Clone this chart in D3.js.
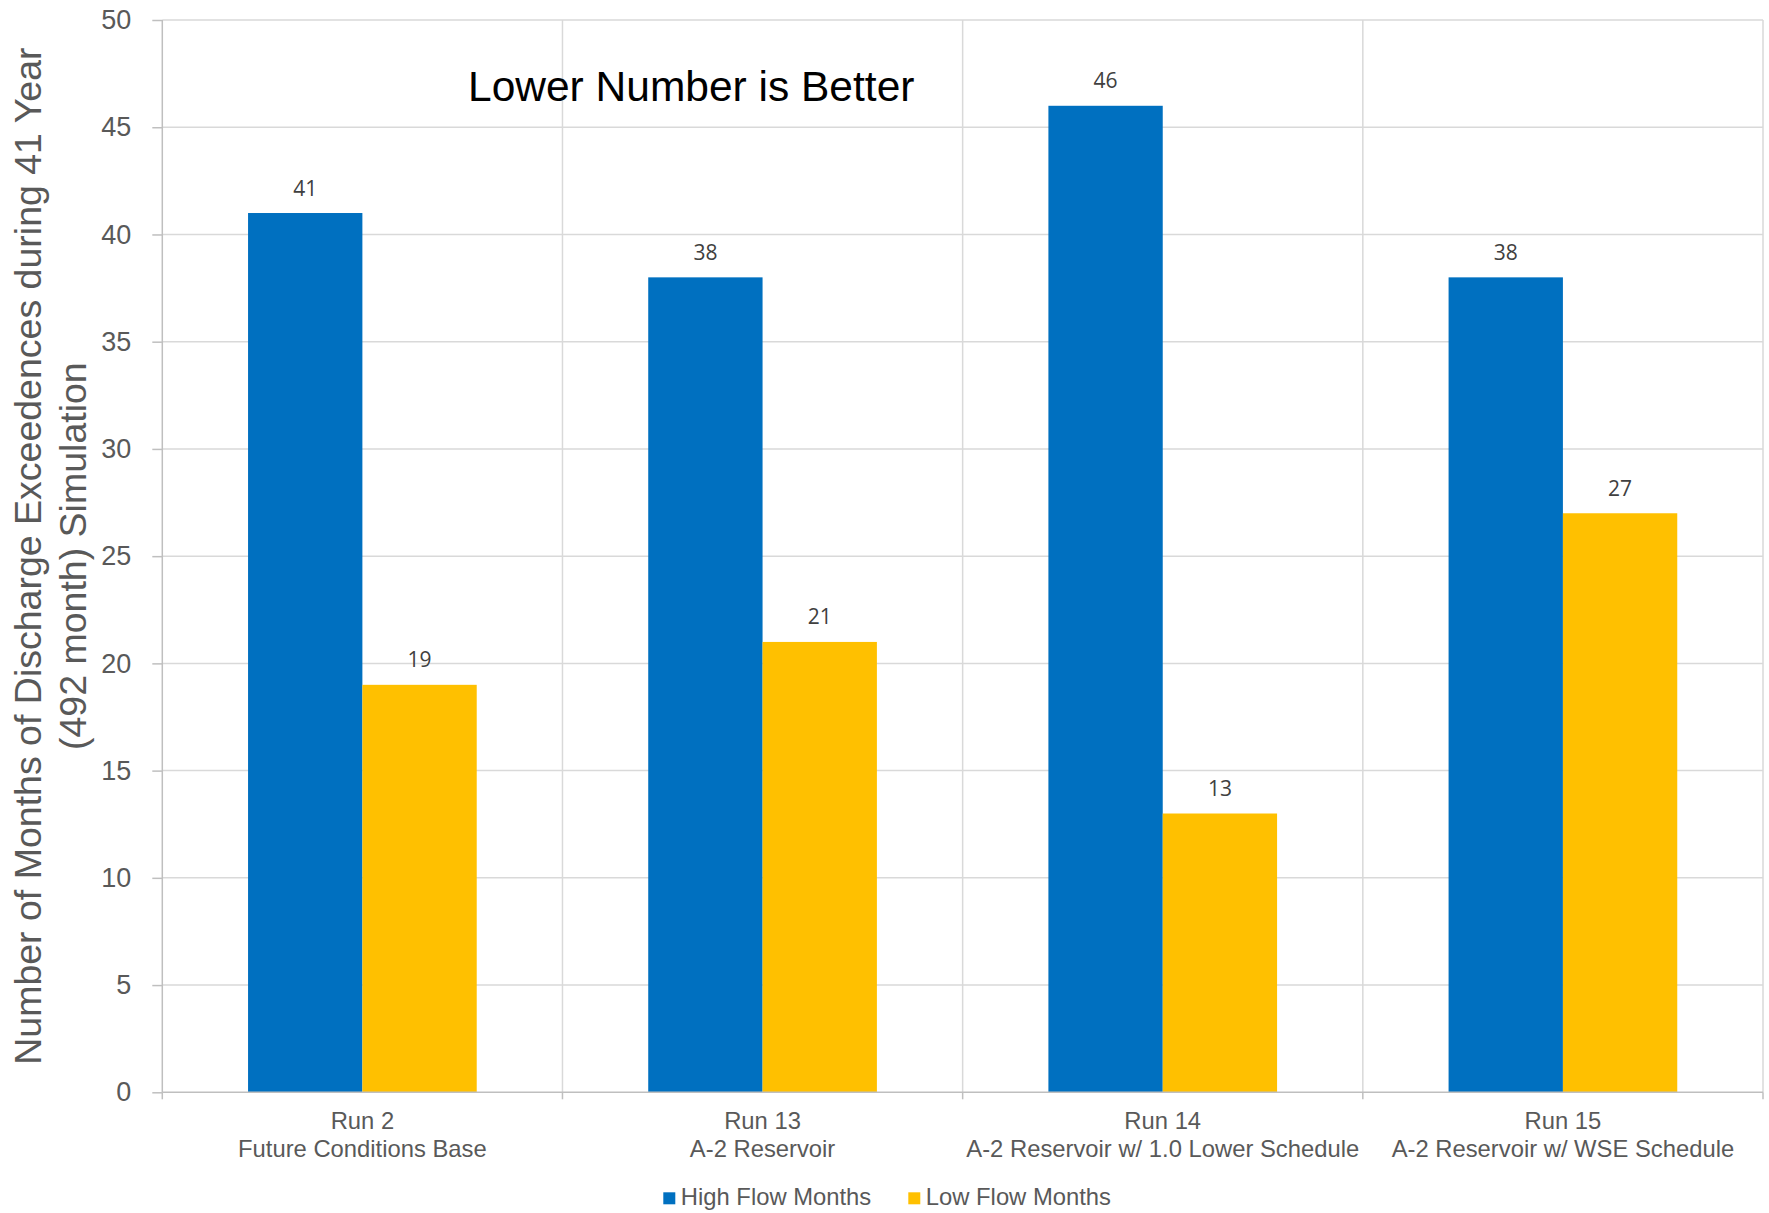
<!DOCTYPE html>
<html><head><meta charset="utf-8">
<script src="https://cdn.jsdelivr.net/npm/d3@7"></script>
<style>body{margin:0;background:#fff}svg{display:block}</style>
</head><body>
<script>
const categories = [
  ["Run 2", "Future Conditions Base"],
  ["Run 13", "A-2 Reservoir"],
  ["Run 14", "A-2 Reservoir w/ 1.0 Lower Schedule"],
  ["Run 15", "A-2 Reservoir w/ WSE Schedule"]
];
const seriesNames = ["High Flow Months", "Low Flow Months"];
const highFlow = [41, 38, 46, 38];
const lowFlow = [19, 21, 13, 27];
const yTicks = [0, 5, 10, 15, 20, 25, 30, 35, 40, 45, 50];
const colors = ["#0070C0", "#FFC000"];

const W = 1769, H = 1213;
const m = {left: 162.3, right: 1763, top: 20, bottom: 1092.3};
const svg = d3.select("body").append("svg").attr("width", W).attr("height", H);

const keys = categories.map(c => c[0]);
const x0 = d3.scaleBand().domain(keys).range([m.left, m.right]).paddingInner(0).paddingOuter(0);
const x1 = d3.scaleBand().domain(seriesNames).range([0, x0.bandwidth()]).paddingInner(0).paddingOuter(0.75);
const y = d3.scaleLinear().domain([0, 50]).range([m.bottom, m.top]);

// horizontal gridlines
svg.append("g").selectAll("line").data(yTicks.filter(t => t > 0)).join("line")
  .attr("x1", m.left).attr("x2", m.right)
  .attr("y1", d => y(d)).attr("y2", d => y(d))
  .attr("stroke", "#d9d9d9").attr("stroke-width", 1.5);
// vertical gridlines at category boundaries
const bounds = keys.map(k => x0(k)).concat([m.right]);
svg.append("g").selectAll("line").data(bounds.slice(1)).join("line")
  .attr("x1", d => d).attr("x2", d => d)
  .attr("y1", m.top).attr("y2", m.bottom)
  .attr("stroke", "#d9d9d9").attr("stroke-width", 1.5);

// bars
const data = keys.map((k, i) => ({key: k, vals: [highFlow[i], lowFlow[i]]}));
const groups = svg.append("g").selectAll("g").data(data).join("g")
  .attr("transform", d => `translate(${x0(d.key)},0)`);
groups.selectAll("rect").data(d => d.vals.map((v, j) => ({name: seriesNames[j], v, j}))).join("rect")
  .attr("x", d => x1(d.name)).attr("width", x1.bandwidth())
  .attr("y", d => y(d.v)).attr("height", d => y(0) - y(d.v))
  .attr("fill", d => colors[d.j]);
groups.selectAll("text").data(d => d.vals.map((v, j) => ({name: seriesNames[j], v, j}))).join("text")
  .attr("x", d => x1(d.name) + x1.bandwidth() / 2)
  .attr("y", d => y(d.v) - 17.5)
  .attr("text-anchor", "middle")
  .attr("font-family", "'Open Sans', sans-serif").attr("font-size", 21)
  .attr("fill", "#404040").text(d => d.v);

// y axis
const yAxis = svg.append("g").attr("transform", `translate(${m.left},0)`)
  .call(d3.axisLeft(y).tickValues(yTicks).tickSize(10).tickPadding(21).tickFormat(d3.format("d")));
yAxis.select(".domain").attr("stroke", "#bfbfbf").attr("stroke-width", 1.5).attr("d", `M0,${m.top}V${m.bottom}`);
yAxis.selectAll(".tick line").attr("stroke", "#bfbfbf").attr("stroke-width", 1.5);
yAxis.selectAll(".tick text").attr("font-family", "'Liberation Sans', Arial, sans-serif")
  .attr("font-size", 27).attr("fill", "#595959");

// x axis
const xAxis = svg.append("g").attr("transform", `translate(0,${m.bottom})`);
xAxis.append("line").attr("x1", m.left).attr("x2", m.right).attr("y1", 0).attr("y2", 0)
  .attr("stroke", "#bfbfbf").attr("stroke-width", 1.5);
xAxis.selectAll("line.tk").data(bounds).join("line").attr("class", "tk")
  .attr("x1", d => d).attr("x2", d => d).attr("y1", 0).attr("y2", 7)
  .attr("stroke", "#bfbfbf").attr("stroke-width", 1.5);
const xl = xAxis.selectAll("text").data(categories).join("text")
  .attr("text-anchor", "middle")
  .attr("font-family", "'Liberation Sans', Arial, sans-serif").attr("font-size", 23.8)
  .attr("fill", "#595959");
xl.each(function(d, i) {
  const cx = x0(keys[i]) + x0.bandwidth() / 2;
  const t = d3.select(this);
  t.append("tspan").attr("x", cx).attr("y", 37).text(d[0]);
  t.append("tspan").attr("x", cx).attr("y", 64.5).text(d[1]);
});

// y axis title
const yt = svg.append("text")
  .attr("transform", `translate(0,${(m.top + m.bottom) / 2}) rotate(-90)`)
  .attr("text-anchor", "middle")
  .attr("font-family", "'Liberation Sans', Arial, sans-serif").attr("font-size", 37.5)
  .attr("fill", "#595959");
yt.append("tspan").attr("x", 0).attr("y", 41).text("Number of Months of Discharge Exceedences during 41 Year");
yt.append("tspan").attr("x", 0).attr("y", 86).text("(492 month) Simulation");

// title annotation
svg.append("text").attr("x", 468).attr("y", 100.5)
  .attr("font-family", "'Liberation Sans', Arial, sans-serif").attr("font-size", 42.5)
  .attr("fill", "#000").text("Lower Number is Better");

// legend
const legX = [663.3, 908.3];
const leg = svg.append("g").selectAll("g").data(seriesNames).join("g")
  .attr("transform", (d, i) => `translate(${legX[i]},1192.3)`);
leg.append("rect").attr("width", 12).attr("height", 12).attr("fill", (d, i) => colors[i]);
leg.append("text").attr("x", 17.5).attr("y", 12.7)
  .attr("font-family", "'Liberation Sans', Arial, sans-serif").attr("font-size", 23.8)
  .attr("fill", "#595959").text(d => d);
</script>
</body></html>
